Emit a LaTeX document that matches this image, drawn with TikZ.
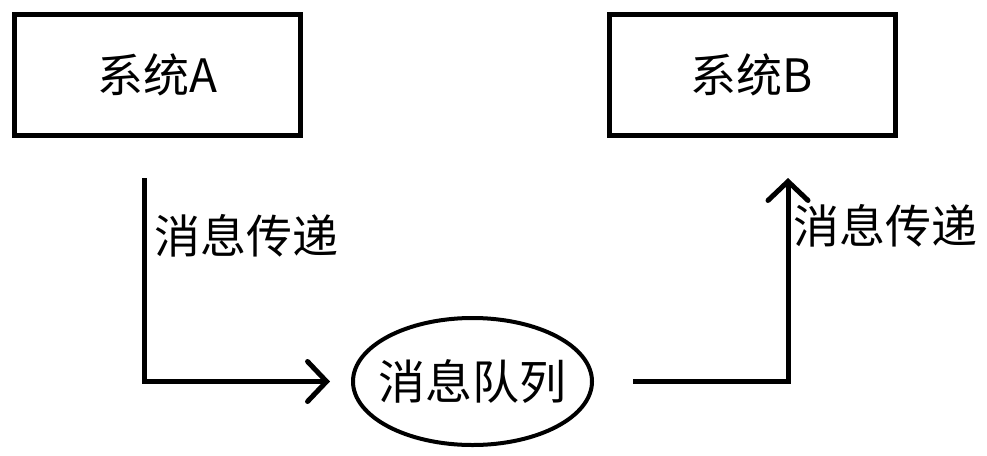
\documentclass[tikz,border=0pt]{standalone}
\usepackage{fontspec}
\setmainfont{Noto Sans CJK SC}
\usepackage{tikz}
\usetikzlibrary{shapes,arrows.meta,calc}
\tikzset{
   system node/.style={rectangle,draw,line width=5pt,minimum width=286pt,minimum height=121pt,
                       inner sep=0pt,font=\fontsize{46pt}{50pt}\selectfont},
   queue node/.style={ellipse,draw,line width=4pt,minimum width=239pt,minimum height=127pt,
                      inner xsep=-10pt,inner ysep=0pt,font=\fontsize{47pt}{50pt}\selectfont},
   msg label/.style={inner sep=0pt,font=\fontsize{46pt}{50pt}\selectfont}
}

\begin{document}
\begin{tikzpicture}[x=1pt,y=-1pt,
                    line width=5pt,
                    >={Straight Barb[length=19pt,width=40pt,line cap=round]}]
\useasboundingbox (0,0) rectangle (987,455);
\node[system node] (sysA) at (157.5, 75)   {系统A};
\node[system node] (sysB) at (752,   74.5) {系统B};
\node[queue node]  (mq)   at (472.5, 381.5) {消息队列};
\coordinate (outA) at (144, 178);
\coordinate (inB)  at (788, 178);
\node[msg label] (labA) at (246, 236) {消息传递};
\node[msg label] (labB) at (885, 226) {消息传递};
%
\draw[->,shorten >=21pt] (outA) |- (mq);
\draw[->,shorten <=39pt] (mq) -| (inB);
\end{tikzpicture}
\end{document}
